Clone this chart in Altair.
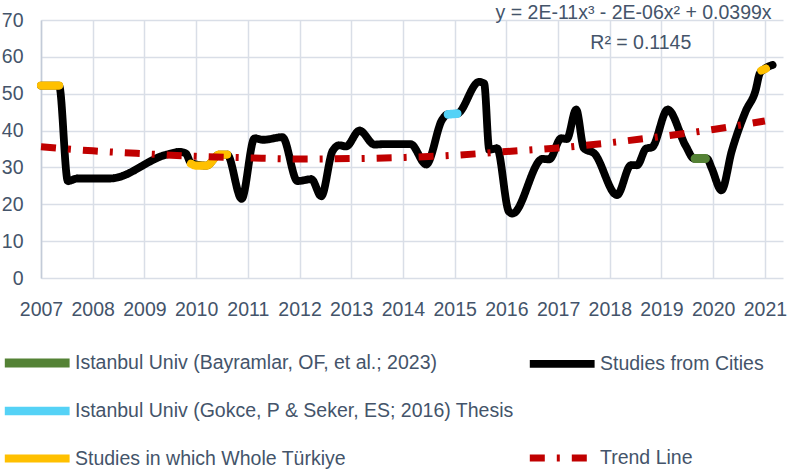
import altair as alt
import pandas as pd

# ---------------- data ----------------
city_years = [2007.0, 2007.35, 2007.52, 2007.7, 2008.33, 2009.43, 2009.68, 2009.8, 2009.9, 2010.2,
              2010.45, 2010.6, 2010.88, 2011.13, 2011.3, 2011.67, 2011.96, 2012.23, 2012.42, 2012.64,
              2012.77, 2012.9, 2013.16, 2013.45, 2013.6, 2014.15, 2014.45, 2014.76, 2014.86, 2015.05,
              2015.47, 2015.57, 2015.67, 2015.82, 2016.05, 2016.12, 2016.7, 2016.83, 2017.06, 2017.17,
              2017.35, 2017.5, 2017.7, 2018.14, 2018.41, 2018.53, 2018.7, 2018.82, 2019.12, 2019.47,
              2019.63, 2019.88, 2019.97, 2020.16, 2020.36, 2020.63, 2020.82, 2020.9, 2020.97, 2021.15]
city_values = [52.2, 52.2, 26.3, 27.0, 27.0, 33.5, 34.2, 33.8, 31.2, 30.5,
               33.5, 33.5, 21.5, 37.9, 37.5, 38.2, 26.3, 26.8, 22.2, 34.5,
               36.0, 35.7, 40.0, 36.2, 36.3, 36.3, 30.8, 43.0, 44.4, 44.6,
               53.2, 52.8, 34.8, 35.2, 18.0, 17.5, 32.3, 32.2, 37.9, 37.7,
               45.7, 35.2, 33.8, 22.5, 30.6, 30.6, 35.1, 35.5, 45.7, 35.8,
               32.4, 32.4, 29.8, 23.8, 34.5, 45.3, 50.9, 55.5, 56.5, 57.8]

# highlighted study segments (series, segment id, year, value)
hl_series = ["Studies in which Whole Türkiye"] * 2 + ["Studies in which Whole Türkiye"] * 5 + \
            ["Studies in which Whole Türkiye"] * 2 + \
            ["Istanbul Univ (Gokce, P & Seker, ES; 2016) Thesis"] * 2 + \
            ["Istanbul Univ (Bayramlar, OF, et al.; 2023)"] * 2
hl_segment = ["w1", "w1", "w2", "w2", "w2", "w2", "w2", "w3", "w3", "g1", "g1", "b1", "b1"]
hl_years = [2007.0, 2007.35, 2009.9, 2010.0, 2010.2, 2010.45, 2010.6, 2020.93, 2021.02,
            2014.87, 2015.05, 2019.65, 2019.85]
hl_values = [52.2, 52.2, 31.0, 30.5, 30.5, 33.5, 33.5, 56.3, 56.8,
             44.4, 44.6, 32.4, 32.4]

trend_years = [2007, 2008, 2009, 2010, 2011, 2012, 2013, 2014, 2015, 2016, 2017, 2018, 2019, 2020, 2021]
trend_values = [35.6, 34.5, 33.7, 33.0, 32.6, 32.3, 32.4, 32.7, 33.3, 34.3, 35.3, 36.7, 38.4, 40.3, 42.6]

year_ticks = list(range(2007, 2022))
value_ticks = [0, 10, 20, 30, 40, 50, 60, 70]

eq_text = ["y = 2E-11x³ - 2E-06x² + 0.0399x"]
eq_pos = [2021.13, 71.8]
r2_text = ["R² = 0.1145"]
r2_pos = [2018.6, 63.7]

# legend is laid out column by column: left column first, then right column
series_order = ["Istanbul Univ (Bayramlar, OF, et al.; 2023)",
                "Istanbul Univ (Gokce, P & Seker, ES; 2016) Thesis",
                "Studies in which Whole Türkiye",
                "Studies from Cities", " ", "Trend Line"]
series_colors = ["#548235", "#55D2F6", "#FFC000", "#000000", "transparent", "#C00000"]
series_dash = [[1, 0], [1, 0], [1, 0], [1, 0], [1, 0], [15, 12, 3, 12]]
series_width = [9, 7, 7, 5, 1, 4]

FONT = "Liberation Sans, Arial, sans-serif"
FS = 19.5
TXT = "#44546A"

# ---------------- frames ----------------
city_df = pd.DataFrame({"year": city_years, "value": city_values, "series": "Studies from Cities"})
hl_df = pd.DataFrame({"year": hl_years, "value": hl_values, "series": hl_series, "seg": hl_segment})
trend_df = pd.DataFrame({"year": trend_years, "value": trend_values, "series": "Trend Line"})
eq_df = pd.DataFrame({"year": [eq_pos[0]], "value": [eq_pos[1]], "t": eq_text})
r2_df = pd.DataFrame({"year": [r2_pos[0]], "value": [r2_pos[1]], "t": r2_text})

x = alt.X("year:Q", scale=alt.Scale(domain=[2007, 2021.35], nice=False, zero=False),
          axis=alt.Axis(values=year_ticks, format="d", title=None, ticks=False, domain=False,
                        labelPadding=22, labelFontSize=FS, labelFont=FONT, labelColor=TXT,
                        gridColor="#D9DEE7", gridWidth=1.5, labelFlush=False,
                        labelOverlap=False, labelBound=False))
y = alt.Y("value:Q", scale=alt.Scale(domain=[0, 70], nice=False),
          axis=alt.Axis(values=value_ticks, title=None, ticks=False, domain=True, domainColor="#C3CBD8",
                        domainWidth=1.5, labelPadding=18, labelFontSize=FS, labelFont=FONT,
                        labelColor=TXT, gridColor="#D9DEE7", gridWidth=1.5,
                        labelOverlap=False, labelBound=False, labelFlush=False))

color = alt.Color("series:N", scale=alt.Scale(domain=series_order, range=series_colors), legend=alt.Legend(title=None))
dash = alt.StrokeDash("series:N", scale=alt.Scale(domain=series_order, range=series_dash), legend=alt.Legend(title=None))
width = alt.StrokeWidth("series:N", scale=alt.Scale(domain=series_order, range=series_width), legend=alt.Legend(title=None))

city = alt.Chart(city_df).mark_line(interpolate="monotone", strokeCap="round", strokeJoin="round").encode(
    x=x, y=y, color=color, strokeDash=dash, strokeWidth=width)
hl = alt.Chart(hl_df).mark_line(interpolate="monotone", strokeCap="round", strokeJoin="round").encode(
    x=x, y=y, color=color, strokeDash=dash, strokeWidth=width, detail="seg:N")
trend = alt.Chart(trend_df).mark_line(interpolate="monotone", strokeCap="butt").encode(
    x=x, y=y, color=color, strokeDash=dash, strokeWidth=width)

eq = alt.Chart(eq_df).mark_text(align="right", baseline="middle", font=FONT, fontSize=FS, color=TXT).encode(
    x=x, y=y, text="t:N")
r2 = alt.Chart(r2_df).mark_text(align="center", baseline="middle", font=FONT, fontSize=FS, color=TXT).encode(
    x=x, y=y, text="t:N")

chart = alt.layer(city, hl, trend, eq, r2).properties(
    width=742, height=258,
    autosize=alt.AutoSizeParams(type="none"),
    padding={"left": 41, "top": 20, "right": 4, "bottom": 194},
).configure_view(stroke=None).configure_legend(
    orient="none", legendX=-41, legendY=322, columns=2, columnPadding=0, rowPadding=9,
    symbolType="M-1,0H3", symbolSize=1050, labelFont=FONT, labelFontSize=FS, labelColor=TXT,
    labelLimit=600, padding=0, labelOffset=33
)

chart.save("out.html", embed_options={"renderer": "svg", "actions": False})
